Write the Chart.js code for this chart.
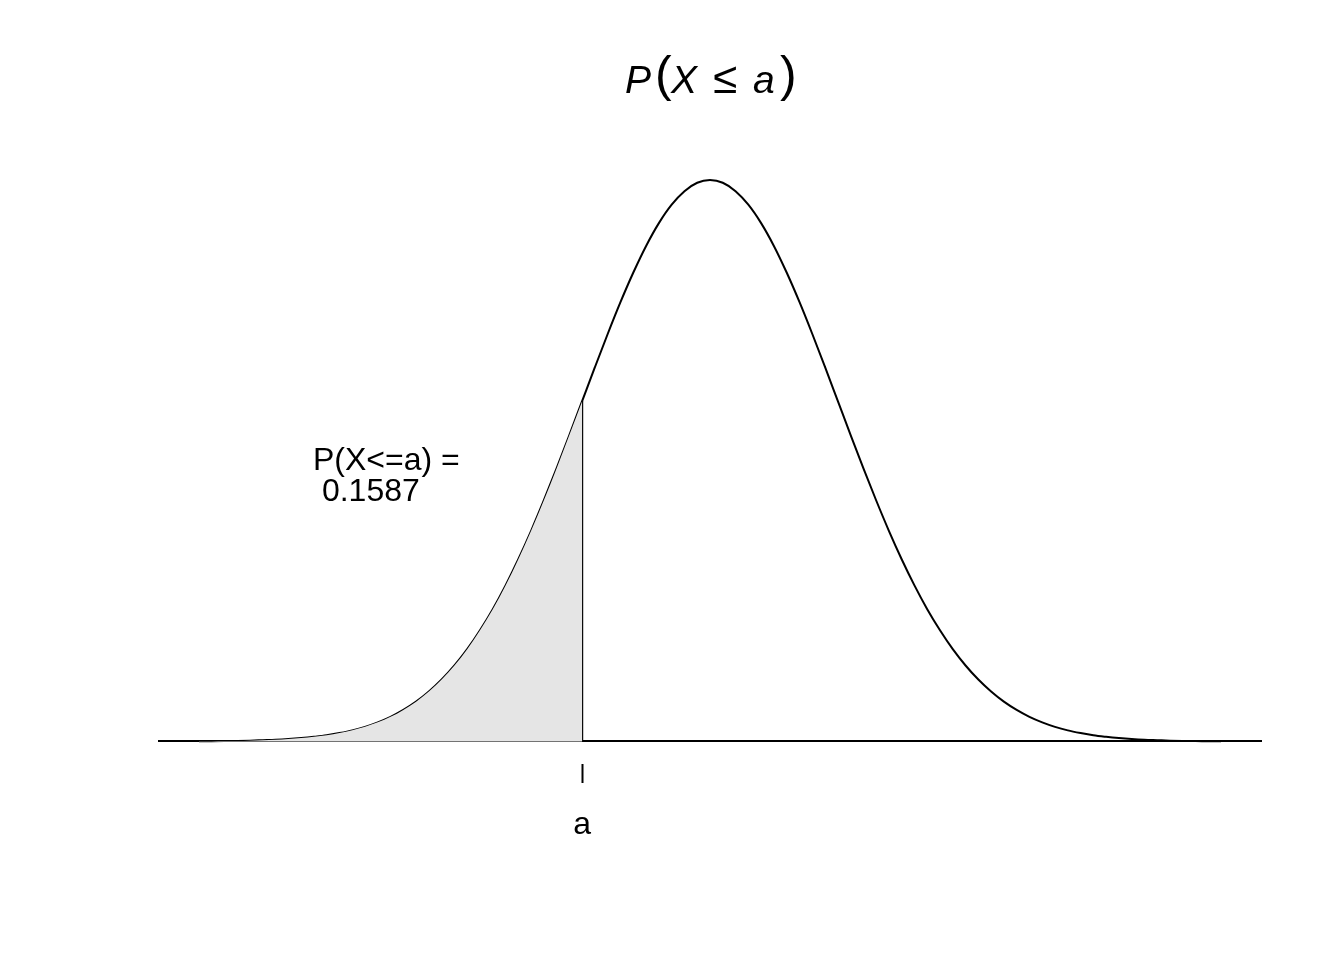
<!DOCTYPE html>
<html>
<head>
<meta charset="utf-8">
<script src="https://cdn.jsdelivr.net/npm/chart.js"></script>
<style>
  html, body { margin: 0; padding: 0; background: #ffffff; }
  #wrap { width: 1344px; height: 960px; }
</style>
</head>
<body>
<div id="wrap"><canvas id="normChart" width="1344" height="960"></canvas></div>
<script>
// standard normal density
const xValues = [
  -4.0, -3.9, -3.8, -3.7, -3.6, -3.5, -3.4, -3.3, -3.2, -3.1,
  -3.0, -2.9, -2.8, -2.7, -2.6, -2.5, -2.4, -2.3, -2.2, -2.1,
  -2.0, -1.9, -1.8, -1.7, -1.6, -1.5, -1.4, -1.3, -1.2, -1.1,
  -1.0, -0.9, -0.8, -0.7, -0.6, -0.5, -0.4, -0.3, -0.2, -0.1,
   0.0,  0.1,  0.2,  0.3,  0.4,  0.5,  0.6,  0.7,  0.8,  0.9,
   1.0,  1.1,  1.2,  1.3,  1.4,  1.5,  1.6,  1.7,  1.8,  1.9,
   2.0,  2.1,  2.2,  2.3,  2.4,  2.5,  2.6,  2.7,  2.8,  2.9,
   3.0,  3.1,  3.2,  3.3,  3.4,  3.5,  3.6,  3.7,  3.8,  3.9,
   4.0
];
const density = [
  0.0001, 0.0002, 0.0003, 0.0004, 0.0006, 0.0009, 0.0012, 0.0017, 0.0024, 0.0033,
  0.0044, 0.0060, 0.0079, 0.0104, 0.0136, 0.0175, 0.0224, 0.0283, 0.0355, 0.0440,
  0.0540, 0.0656, 0.0790, 0.0940, 0.1109, 0.1295, 0.1497, 0.1714, 0.1942, 0.2179,
  0.2420, 0.2661, 0.2897, 0.3123, 0.3332, 0.3521, 0.3683, 0.3814, 0.3910, 0.3970,
  0.3989,
  0.3970, 0.3910, 0.3814, 0.3683, 0.3521, 0.3332, 0.3123, 0.2897, 0.2661,
  0.2420, 0.2179, 0.1942, 0.1714, 0.1497, 0.1295, 0.1109, 0.0940, 0.0790, 0.0656,
  0.0540, 0.0440, 0.0355, 0.0283, 0.0224, 0.0175, 0.0136, 0.0104, 0.0079, 0.0060,
  0.0044, 0.0033, 0.0024, 0.0017, 0.0012, 0.0009, 0.0006, 0.0004, 0.0003, 0.0002,
  0.0001
];
const cutoff = -1.0;          // the point "a"
const tickLabels = ['a'];
const probText = ['P(X<=a) =', ' 0.1587'];

const xRange = [-4.32, 4.32];
const yRange = [-0.016, 0.416];

// build point lists from the arrays
const curvePts = xValues.map((x, i) => ({x: x, y: density[i]}));
const shadePts = curvePts.filter(p => p.x <= cutoff);
const cutIdx = xValues.indexOf(cutoff);
const cutLine = [{x: cutoff, y: 0}, {x: cutoff, y: density[cutIdx]}];

const FONT = '"Liberation Sans", Arial, Helvetica, sans-serif';

// title and probability text
const textPlugin = {
    id: 'textPlugin',
    afterDraw(chart) {
        const ctx = chart.ctx;
        ctx.save();
        ctx.fillStyle = '#000000';
        ctx.textAlign = 'left';
        ctx.textBaseline = 'alphabetic';

        // P(X <= a) title, math style
        const it = 'italic 39px ' + FONT;
        const up = '44px ' + FONT;
        const par = '50px ' + FONT;
        const parts = [
            {t: 'P', f: it, x: 625, y: 93},
            {t: '(', f: par, x: 655, y: 91},
            {t: 'X', f: it, x: 671, y: 93},
            {t: '\u2264', f: up, x: 713, y: 93},
            {t: 'a', f: it, x: 753, y: 93},
            {t: ')', f: par, x: 780, y: 91}
        ];
        parts.forEach(p => {
            ctx.font = p.f;
            ctx.fillText(p.t, p.x, p.y);
        });

        ctx.font = '32px ' + FONT;
        ctx.fillText(probText[0], 313, 470);
        ctx.fillText(probText[1], 313, 501);
        ctx.restore();
    }
};

const ctxNorm = document.getElementById('normChart').getContext('2d');
new Chart(ctxNorm, {
    type: 'line',
    data: {
        datasets: [
            {
                data: shadePts,
                borderWidth: 0,
                borderColor: 'rgba(0,0,0,0)',
                backgroundColor: '#E5E5E5',
                fill: 'origin',
                pointRadius: 0,
                cubicInterpolationMode: 'monotone'
            },
            {
                data: curvePts,
                borderColor: '#000000',
                borderWidth: 2,
                fill: false,
                pointRadius: 0,
                cubicInterpolationMode: 'monotone'
            },
            {
                data: cutLine,
                borderColor: '#000000',
                borderWidth: 2,
                fill: false,
                pointRadius: 0
            }
        ]
    },
    options: {
        responsive: false,
        animation: false,
        events: [],
        layout: {padding: {left: 158, right: 82, top: 156, bottom: 96}},
        plugins: {
            legend: {display: false},
            tooltip: {enabled: false},
            title: {display: false}
        },
        scales: {
            x: {
                type: 'linear',
                min: xRange[0],
                max: xRange[1],
                border: {display: false},
                grid: {
                    drawOnChartArea: false,
                    drawTicks: true,
                    tickLength: 19,
                    tickWidth: 2,
                    color: '#000000'
                },
                afterBuildTicks: axis => { axis.ticks = [{value: cutoff}]; },
                afterFit: axis => { axis.height = 100; },
                ticks: {
                    autoSkip: false,
                    maxRotation: 0,
                    padding: 23,
                    color: '#000000',
                    font: {family: FONT, size: 32},
                    callback: () => tickLabels[0]
                }
            },
            y: {
                type: 'linear',
                min: yRange[0],
                max: yRange[1],
                border: {display: false},
                afterBuildTicks: axis => { axis.ticks = [{value: 0}]; },
                afterFit: axis => { axis.width = 0; },
                grid: {
                    drawOnChartArea: true,
                    drawTicks: false,
                    color: '#000000',
                    lineWidth: 2
                },
                ticks: {display: false}
            }
        }
    },
    plugins: [textPlugin]
});
</script>
</body>
</html>
